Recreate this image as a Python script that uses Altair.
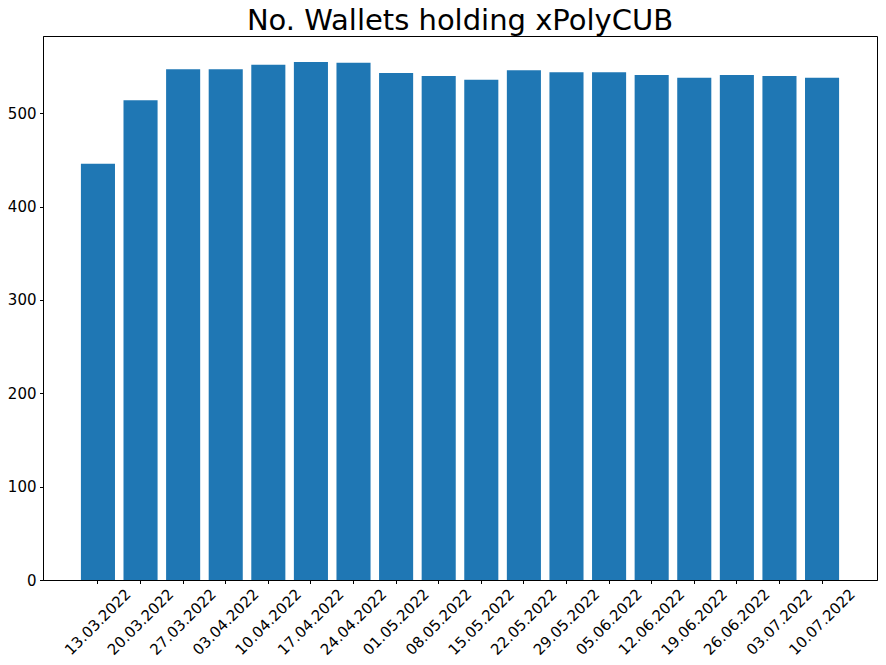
import altair as alt
import pandas as pd

dates = ["13.03.2022", "20.03.2022", "27.03.2022", "03.04.2022", "10.04.2022",
         "17.04.2022", "24.04.2022", "01.05.2022", "08.05.2022", "15.05.2022",
         "22.05.2022", "29.05.2022", "05.06.2022", "12.06.2022", "19.06.2022",
         "26.06.2022", "03.07.2022", "10.07.2022"]
wallets = [446, 514, 547, 547, 552, 555, 554, 543, 540, 536,
           546, 544, 544, 541, 538, 541, 540, 538]

df = pd.DataFrame({"date": dates, "wallets": wallets})
FONT = "DejaVu Sans"

chart = alt.Chart(df, title=alt.TitleParams(
    "No. Wallets holding xPolyCUB", fontSize=29, font=FONT, fontWeight="normal",
    color="black", anchor="middle", baseline="alphabetic", offset=-23, frame="group")
).mark_bar(color="#1f77b4").encode(
    x=alt.X("date:N", sort=dates, title=None,
            scale=alt.Scale(paddingInner=0.2, paddingOuter=0.89),
            axis=alt.Axis(labelAngle=-45, labelAlign="center", labelBaseline="middle",
                          labelPadding=38, labelFontSize=15, labelFont=FONT,
                          labelColor="black", tickSize=3.5, tickColor="black",
                          domainColor="black", labelOverlap=False)),
    y=alt.Y("wallets:Q", title=None,
            scale=alt.Scale(domain=[0, 582.75], nice=False, zero=True),
            axis=alt.Axis(values=[0, 100, 200, 300, 400, 500], grid=False,
                          labelFontSize=15, labelFont=FONT, labelColor="black",
                          tickSize=3.5, tickColor="black", labelPadding=3.5,
                          domainColor="black")),
).properties(
    width=834, height=544,
    autosize=alt.AutoSizeParams(type="none"),
    padding={"left": 35, "top": 28, "right": 1, "bottom": 77},
).configure_view(stroke="black", strokeWidth=1)

chart.save("out.html", embed_options={"renderer": "svg", "actions": False})
